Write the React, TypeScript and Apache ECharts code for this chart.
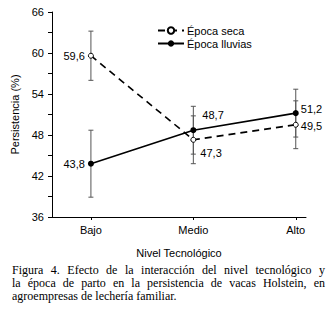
import React, { useEffect, useRef } from "react";
import * as echarts from "echarts";

const categories = ["Bajo", "Medio", "Alto"];
const xPositions = [1, 2, 3];
const secaValues = [59.6, 47.3, 49.5];
const secaErrors = [3.6, 3.5, 3.5];
const lluviasValues = [43.8, 48.7, 51.2];
const lluviasErrors = [4.9, 3.5, 3.5];
const yTicks = { min: 36, max: 66, interval: 6 };
const captionLines = [
  "Figura 4. Efecto de la interacción del nivel tecnológico y",
  "la época de parto en la persistencia de vacas Holstein, en",
  "agroempresas de lechería familiar.",
];

const FONT = "'Liberation Sans', Arial, sans-serif";

function fmt(v: number) {
  return v.toFixed(1).replace(".", ",");
}

export default function App() {
  const ref = useRef<HTMLDivElement>(null);

  useEffect(() => {
    if (!ref.current) return;
    const chart = echarts.init(ref.current, null, { renderer: "svg" });

    const errData = [
      ...xPositions.map((x, i) => [x, secaValues[i] - secaErrors[i], secaValues[i] + secaErrors[i]]),
      ...xPositions.map((x, i) => [x, lluviasValues[i] - lluviasErrors[i], lluviasValues[i] + lluviasErrors[i]]),
    ];

    const secaLabelCfg = [
      { position: "left", distance: 3, offset: [0, 0] },
      { position: "right", distance: 4, offset: [0, 13] },
      { position: "right", distance: 2, offset: [0, 1] },
    ];
    const lluviasLabelCfg = [
      { position: "left", distance: 3, offset: [0, 0] },
      { position: "right", distance: 6, offset: [0, -15] },
      { position: "right", distance: 2, offset: [0, -4] },
    ];

    chart.setOption({
      animation: false,
      textStyle: { fontFamily: FONT },
      grid: { left: 52, right: 27, top: 12, bottom: 98, containLabel: false },
      legend: {
        orient: "vertical",
        left: 152,
        top: 20,
        itemWidth: 26,
        itemHeight: 8,
        itemGap: 2,
        textStyle: { fontSize: 11, color: "#000", fontFamily: FONT, padding: [0, 0, 0, -2] },
        data: ["Época seca", "Época lluvias"],
      },
      xAxis: {
        type: "value",
        min: 0.62,
        max: 3.1,
        name: "Nivel Tecnológico",
        nameLocation: "middle",
        nameGap: 30,
        nameTextStyle: { fontSize: 11, color: "#000", fontFamily: FONT },
        axisLine: { show: true, lineStyle: { color: "#000", width: 1 } },
        axisTick: { show: true, length: 3, customValues: xPositions, lineStyle: { color: "#000" } },
        axisLabel: {
          customValues: xPositions,
          formatter: (v: number) => categories[Math.round(v) - 1] ?? "",
          fontSize: 11,
          color: "#000",
          margin: 7,
          fontFamily: FONT,
        },
        splitLine: { show: false },
      },
      yAxis: {
        type: "value",
        min: yTicks.min,
        max: yTicks.max,
        interval: yTicks.interval,
        name: "Persistencia (%)",
        nameLocation: "middle",
        nameGap: 30,
        nameTextStyle: { fontSize: 11, color: "#000", fontFamily: FONT },
        axisLine: { show: true, lineStyle: { color: "#000", width: 1 } },
        axisTick: { show: true, length: 4, lineStyle: { color: "#000" } },
        minorTick: { show: true, splitNumber: 2, length: 4, lineStyle: { color: "#000" } },
        axisLabel: { fontSize: 11, color: "#000", margin: 8, fontFamily: FONT },
        splitLine: { show: false },
      },
      series: [
        {
          type: "custom",
          name: "err",
          data: errData,
          z: 1,
          silent: true,
          renderItem: (params: any, api: any) => {
            const x = api.value(0);
            const lo = api.coord([x, api.value(1)]);
            const hi = api.coord([x, api.value(2)]);
            const w = 2.5;
            const style = { stroke: "#555", lineWidth: 1 };
            return {
              type: "group",
              children: [
                { type: "line", shape: { x1: lo[0], y1: lo[1], x2: hi[0], y2: hi[1] }, style },
                { type: "line", shape: { x1: hi[0] - w, y1: hi[1], x2: hi[0] + w, y2: hi[1] }, style },
                { type: "line", shape: { x1: lo[0] - w, y1: lo[1], x2: lo[0] + w, y2: lo[1] }, style },
              ],
            };
          },
        },
        {
          type: "line",
          name: "Época seca",
          z: 3,
          data: xPositions.map((x, i) => ({
            value: [x, secaValues[i]],
            label: {
              show: true,
              position: secaLabelCfg[i].position,
              distance: secaLabelCfg[i].distance,
              offset: secaLabelCfg[i].offset,
              formatter: fmt(secaValues[i]),
              fontSize: 11,
              color: "#000",
              fontFamily: FONT,
            },
          })),
          symbol: "circle",
          symbolSize: 5,
          showAllSymbol: true,
          lineStyle: { color: "#000", width: 1.6, type: [7, 5] },
          itemStyle: { color: "#fff", borderColor: "#000", borderWidth: 1 },
        },
        {
          type: "line",
          name: "Época lluvias",
          z: 4,
          data: xPositions.map((x, i) => ({
            value: [x, lluviasValues[i]],
            label: {
              show: true,
              position: lluviasLabelCfg[i].position,
              distance: lluviasLabelCfg[i].distance,
              offset: lluviasLabelCfg[i].offset,
              formatter: fmt(lluviasValues[i]),
              fontSize: 11,
              color: "#000",
              fontFamily: FONT,
            },
          })),
          symbol: "circle",
          symbolSize: 6,
          showAllSymbol: true,
          lineStyle: { color: "#000", width: 1.6, type: "solid" },
          itemStyle: { color: "#000", borderColor: "#000", borderWidth: 0 },
        },
      ],
    });

    return () => chart.dispose();
  }, []);

  return (
    <div style={{ position: "absolute", left: 0, top: 0, width: 333, height: 315, background: "#fff" }}>
      <div ref={ref} style={{ position: "absolute", left: 0, top: 0, width: 333, height: 315 }} />
      <div
        style={{
          position: "absolute",
          left: 12,
          top: 264,
          width: 313,
          fontFamily: "'Liberation Serif', 'Times New Roman', serif",
          fontSize: 12,
          lineHeight: "13px",
          color: "#000",
        }}
      >
        {captionLines.map((line, i) => (
          <div
            key={i}
            style={{
              textAlign: i < captionLines.length - 1 ? "justify" : "left",
              textAlignLast: i < captionLines.length - 1 ? "justify" : "left",
              whiteSpace: "nowrap",
            }}
          >
            {line}
          </div>
        ))}
      </div>
    </div>
  );
}
